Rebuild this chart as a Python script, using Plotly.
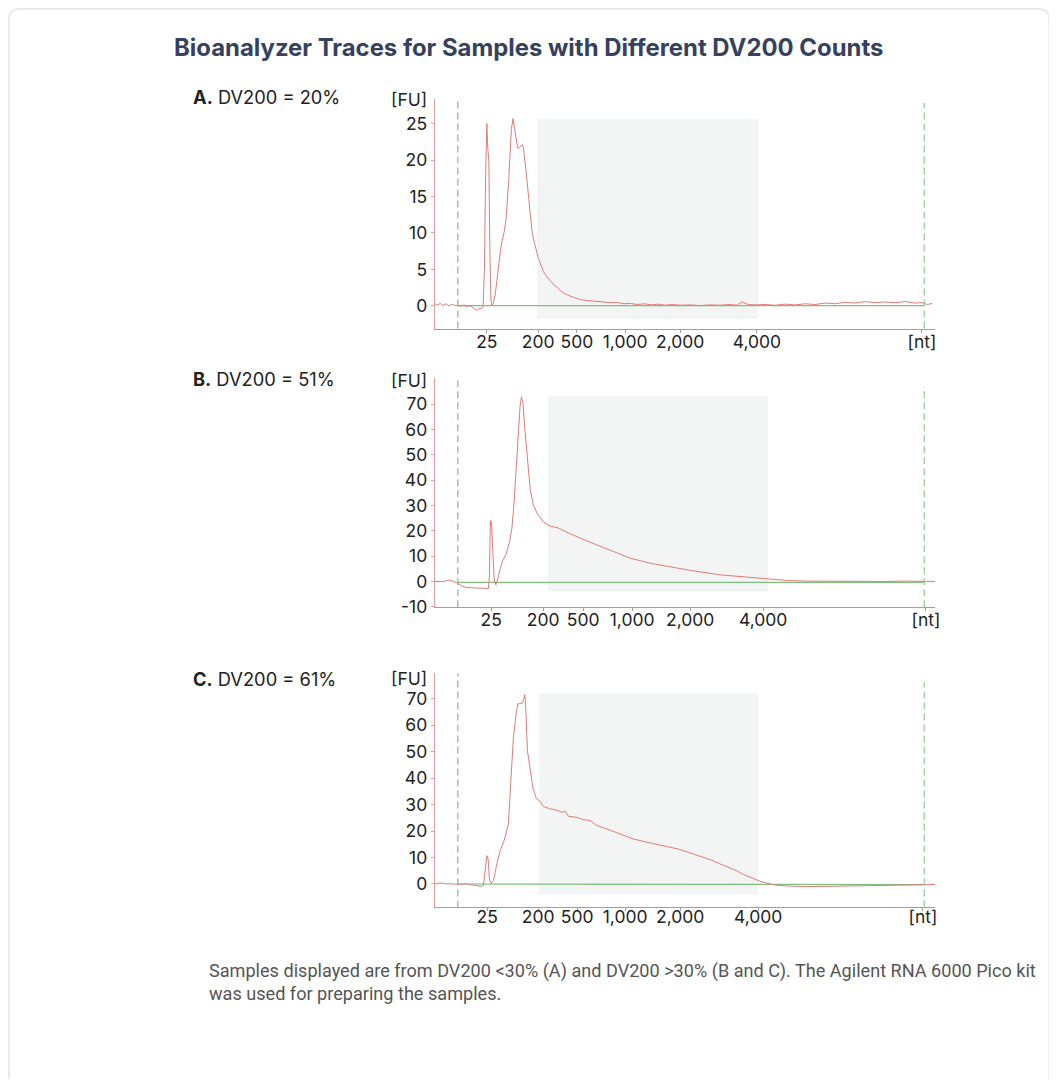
import plotly.graph_objects as go

# page is 1057x1087 with an 8px body margin, so the figure itself is 1041x1071
W, H = 1041, 1071

# ---------------- data (migration time in s, fluorescence in FU) ----------------
a_time = [18.0, 18.23, 18.53, 18.83, 19.13, 19.43, 19.73, 20.03, 20.33, 20.63, 20.93, 21.23, 21.53, 21.83,
          22.2, 22.43, 22.63, 22.83, 22.96, 23.08, 23.2, 23.3, 23.4, 23.5, 23.6, 23.7, 23.83, 24.03, 24.2,
          24.36, 24.53, 24.7, 24.93, 25.13, 25.26, 25.4, 25.53, 25.66, 25.83, 25.93, 26.03, 26.18, 26.3,
          26.43, 26.53, 26.63, 26.76, 26.86, 26.96, 27.08, 27.2, 27.43, 27.58, 27.7, 27.86, 28.03, 28.2,
          28.36, 28.53, 28.86, 29.2, 29.53, 29.83, 30.2, 30.63, 31.2, 31.63, 32.2, 32.83, 33.53, 34.13,
          34.83, 35.53, 36.23, 36.93, 37.53, 38.23, 38.93, 39.63, 40.33, 41.03, 41.73, 42.53, 43.53, 44.53,
          45.53, 46.53, 47.53, 48.2, 48.7, 49.33, 50.03, 51.03, 52.03, 53.03, 54.03, 55.03, 56.03, 57.03,
          58.03, 59.03, 60.03, 61.03, 62.03, 63.03, 64.03, 65.03, 66.03, 66.73, 67.23, 67.73]
a_fu = [0.3, 0.1, 0.35, 0.05, 0.3, 0.0, 0.25, 0.05, 0.1, -0.05, 0.15, -0.1, 0.05, -0.3,
        -0.6, -0.3, -0.4, 0.0, 5.0, 18.0, 25.0, 21.5, 20.0, 8.0, 1.0, 0.1, 0.3, 1.5, 3.5,
        6.0, 7.2, 8.8, 10.1, 12.0, 14.2, 17.5, 21.1, 24.3, 25.7, 25.0, 23.8, 22.5, 21.6,
        21.7, 21.8, 22.0, 22.1, 21.6, 20.6, 19.0, 17.4, 14.2, 12.0, 10.4, 9.2, 8.3, 7.2,
        6.5, 5.9, 4.7, 4.0, 3.5, 3.0, 2.6, 2.0, 1.55, 1.3, 1.0, 0.8, 0.7, 0.6,
        0.55, 0.45, 0.5, 0.3, 0.35, 0.2, 0.3, 0.15, 0.25, 0.1, 0.2, 0.1, 0.15, 0.05,
        0.15, 0.1, 0.2, 0.1, 0.55, 0.2, 0.15, 0.2, 0.1, 0.25, 0.15, 0.3, 0.2, 0.4,
        0.3, 0.5, 0.4, 0.6, 0.45, 0.55, 0.45, 0.6, 0.4, 0.45, 0.2, 0.35]

b_time = [18.0, 18.86, 19.36, 19.7, 20.2, 20.7, 21.2, 22.2, 23.36, 23.46, 23.56, 23.66, 23.76, 23.93,
          24.1, 24.3, 24.53, 24.8, 25.13, 25.46, 25.7, 25.93, 26.13, 26.36, 26.53, 26.66, 26.8, 27.0,
          27.26, 27.53, 27.86, 28.26, 28.86, 29.53, 30.36, 31.53, 33.53, 35.53, 37.53, 39.53, 42.2,
          43.53, 46.53, 49.86, 51.53, 53.2, 55.2, 58.2, 60.53, 63.2, 65.03, 68.0]
b_fu = [0.0, 0.0, 0.5, 0.3, -0.5, -1.8, -2.4, -2.6, -2.8, 2.4, 24.1, 23.5, 12.9, 1.0,
        -1.3, 1.0, 5.0, 8.3, 10.9, 15.5, 20.8, 31.4, 44.5, 60.3, 69.6, 72.9, 70.9, 60.3,
        47.2, 36.6, 30.0, 26.7, 23.5, 21.9, 21.1, 18.8, 15.5, 12.3, 9.2, 7.2, 5.3,
        4.4, 2.6, 1.45, 0.8, 0.4, 0.13, 0.0, 0.1, 0.0, 0.15, 0.0]

c_time = [18.0, 18.53, 19.03, 19.53, 20.03, 20.53, 21.03, 21.53, 21.93, 22.36, 22.63, 22.86, 23.03,
          23.2, 23.33, 23.46, 23.63, 23.86, 24.2, 24.53, 24.93, 25.36, 25.6, 25.86, 26.13, 26.3, 26.7,
          26.86, 27.0, 27.1, 27.26, 27.53, 27.8, 28.13, 28.46, 28.86, 29.53, 30.13, 30.7, 31.03, 31.36,
          32.2, 32.86, 33.53, 34.2, 35.2, 36.53, 37.86, 39.2, 40.86, 42.36, 43.86, 44.86, 45.53, 46.53,
          47.2, 48.2, 48.86, 49.86, 50.53, 51.2, 51.73, 52.53, 53.53, 54.86, 57.2, 59.83, 62.03, 65.13,
          67.5, 68.0]
c_fu = [0.0, 0.4, 0.1, 0.0, 0.15, -0.1, 0.05, -0.25, -0.5, -1.0, -0.9, -0.6, 5.0,
        10.7, 9.5, 1.9, 0.25, 1.3, 7.6, 12.6, 16.4, 22.7, 39.1, 55.5, 64.3, 68.1, 68.3,
        69.4, 71.6, 65.6, 50.4, 42.9, 36.6, 32.4, 31.5, 29.3, 28.4, 28.0, 27.1, 27.6, 25.6,
        25.2, 24.3, 24.0, 22.1, 20.8, 18.9, 17.0, 15.8, 14.5, 13.2, 11.3, 10.1, 9.2, 7.6,
        6.6, 5.0, 3.6, 2.0, 1.0, 0.3, -0.2, -0.6, -0.8, -1.0, -0.9, -0.75, -0.6, -0.5,
        -0.3, -0.2]

# baselines (green)
a_base_t = [20.3, 66.93]
a_base_fu = [0.05, 0.05]
b_base_t = [20.3, 66.93]
b_base_fu = [-0.4, -0.4]
c_base_t = [20.3, 32.0, 32.0, 66.93]
c_base_fu = [0.0, 0.0, -0.25, -0.25]

# marker lines (lower / upper marker) and DV200 region (200 - 4,000 nt)
markers = [20.3, 66.93]
a_region = [28.23, 50.33]
b_region = [29.33, 51.33]
c_region = [28.43, 50.33]

# x tick positions (s) and labels (nt)
nt_labels = ["25", "200", "500", "1,000", "2,000", "4,000", "[nt]"]
a_ticks = [23.2, 28.33, 32.2, 37.03, 42.53, 50.2, 66.7]
b_ticks = [23.63, 28.83, 32.83, 37.73, 43.53, 50.83, 67.1]
c_ticks = [23.23, 28.33, 32.23, 37.03, 42.53, 50.33, 66.8]

a_yticks = [0, 5, 10, 15, 20, 25]
b_yticks = [-10, 0, 10, 20, 30, 40, 50, 60, 70]
c_yticks = [0, 10, 20, 30, 40, 50, 60, 70]

panel_labels = ["<b>A.</b> DV200 = 20%", "<b>B.</b> DV200 = 51%", "<b>C.</b> DV200 = 61%"]
title_text = "Bioanalyzer Traces for Samples with Different DV200 Counts"
footer_1 = "Samples displayed are from DV200 &lt;30% (A) and DV200 &gt;30% (B and C). The Agilent RNA 6000 Pico kit"
footer_2 = "was used for preparing the samples."

# ---------------- layout helpers (screen pixels -> paper) ----------------
OFF = 8          # body margin
SX, SY = 0.995, 0.99   # capture scale observed in the screenshot

def px(x):
    return (x / SX - OFF) / W

def py(y):
    return 1 - (y / SY - OFF) / H

RED = "#e27a7a"
AXRED = "#ec9a9a"
GREEN_DASH = "#86c586"
GREEN = "#7fbf7f"
GRAY_FILL = "#f3f4f4"
TXT = "#222222"
FONT = "Inter"

panels = [
    dict(t=a_time, v=a_fu, bt=a_base_t, bv=a_base_fu, reg=a_region, ticks=a_ticks, yt=a_yticks,
         yr=[-3.1, 28.3], dom=(99.3, 328.3), regy=(-1.8, 25.6), label_y=97, fu_y=99, top2=0.985,
         standoff=-3),
    dict(t=b_time, v=b_fu, bt=b_base_t, bv=b_base_fu, reg=b_region, ticks=b_ticks, yt=b_yticks,
         yr=[-10.16, 80.5], dom=(377.3, 606.7), regy=(-4.0, 73.1), label_y=379, fu_y=380, top2=0.96,
         standoff=-3),
    dict(t=c_time, v=c_fu, bt=c_base_t, bv=c_base_fu, reg=c_region, ticks=c_ticks, yt=c_yticks,
         yr=[-8.85, 79.7], dom=(672.7, 906.7), regy=(-4.05, 72.1), label_y=678, fu_y=677.5, top2=0.96,
         standoff=-6),
]

fig = go.Figure()
shapes = []
annotations = []

for i, p in enumerate(panels):
    n = "" if i == 0 else str(i + 1)
    xa, ya = "x" + n, "y" + n
    fig.add_trace(go.Scatter(x=p["bt"], y=p["bv"], mode="lines", xaxis=xa, yaxis=ya,
                             line=dict(color=GREEN, width=1.2), hoverinfo="skip", showlegend=False))
    fig.add_trace(go.Scatter(x=p["t"], y=p["v"], mode="lines", xaxis=xa, yaxis=ya,
                             line=dict(color=RED, width=1), showlegend=False))
    fig.update_layout(**{
        "xaxis" + n: dict(domain=[px(434.7), px(935)], range=[18, 68.03], anchor=ya,
                          tickmode="array", tickvals=p["ticks"], ticktext=nt_labels,
                          showline=True, linecolor="#a0a0a0", linewidth=1, showgrid=False,
                          zeroline=False, ticks="", ticklabelstandoff=p["standoff"],
                          minor=dict(tickmode="array", tickvals=p["ticks"], ticks="outside",
                                     ticklen=3, tickcolor="#a0a0a0", showgrid=False),
                          tickfont=dict(family=FONT, size=17.5, color=TXT), fixedrange=True),
        "yaxis" + n: dict(domain=[py(p["dom"][1]), py(p["dom"][0])], range=p["yr"], anchor=xa,
                          tickmode="array", tickvals=p["yt"], ticktext=[str(v) for v in p["yt"]],
                          showline=True, linecolor=AXRED, linewidth=1.2, showgrid=False,
                          zeroline=False, ticks="outside", ticklen=3, tickcolor=AXRED,
                          tickfont=dict(family=FONT, size=17.5, color=TXT), fixedrange=True),
    })
    # DV200 region
    shapes.append(dict(type="rect", xref=xa, yref=ya, x0=p["reg"][0], x1=p["reg"][1],
                       y0=p["regy"][0], y1=p["regy"][1], fillcolor=GRAY_FILL, line=dict(width=0),
                       layer="below"))
    # marker dashed lines
    shapes.append(dict(type="line", xref=xa, yref=ya + " domain", x0=markers[0], x1=markers[0],
                       y0=0, y1=1, line=dict(color=GREEN_DASH, width=1.3, dash="7px,4px")))
    shapes.append(dict(type="line", xref=xa, yref=ya + " domain", x0=markers[1], x1=markers[1],
                       y0=0, y1=p["top2"], line=dict(color=GREEN_DASH, width=1.1, dash="7px,4px")))
    annotations.append(dict(text=panel_labels[i], xref="paper", yref="paper", x=px(191), y=py(p["label_y"]),
                            xanchor="left", yanchor="middle", showarrow=False,
                            font=dict(family=FONT, size=18.3, color=TXT)))
    annotations.append(dict(text="[FU]", xref="paper", yref="paper", x=px(429), y=py(p["fu_y"]),
                            xanchor="right", yanchor="middle", showarrow=False,
                            font=dict(family=FONT, size=17.5, color=TXT)))

annotations.append(dict(text="<b>" + title_text + "</b>", xref="paper", yref="paper", x=px(528.5), y=py(47),
                        xanchor="center", yanchor="middle", showarrow=False,
                        font=dict(family=FONT, size=23.9, color="#36415e")))
annotations.append(dict(text=footer_1, xref="paper", yref="paper", x=px(207), y=py(970),
                        xanchor="left", yanchor="middle", showarrow=False,
                        font=dict(family="Roboto", size=18.1, color="#555555")))
annotations.append(dict(text=footer_2, xref="paper", yref="paper", x=px(207), y=py(993),
                        xanchor="left", yanchor="middle", showarrow=False,
                        font=dict(family="Roboto", size=18.1, color="#555555")))

# card border (rounded rectangle), screen coordinates
x0, x1, y0, y1, r = 9, 1049, 9, 1084, 10
path = (f"M {px(x0 + r)},{py(y0)} L {px(x1 - r)},{py(y0)} Q {px(x1)},{py(y0)} {px(x1)},{py(y0 + r)} "
        f"L {px(x1)},{py(y1 - r)} Q {px(x1)},{py(y1)} {px(x1 - r)},{py(y1)} "
        f"L {px(x0 + r)},{py(y1)} Q {px(x0)},{py(y1)} {px(x0)},{py(y1 - r)} "
        f"L {px(x0)},{py(y0 + r)} Q {px(x0)},{py(y0)} {px(x0 + r)},{py(y0)} Z")
shapes.append(dict(type="path", xref="paper", yref="paper", path=path,
                   line=dict(color="#e9e9e9", width=2), layer="below"))

fig.update_layout(width=W, height=H, margin=dict(l=0, r=0, t=0, b=0),
                  paper_bgcolor="white", plot_bgcolor="rgba(0,0,0,0)",
                  shapes=shapes, annotations=annotations, showlegend=False)

fig.write_html("out.html", config={"displayModeBar": False})
